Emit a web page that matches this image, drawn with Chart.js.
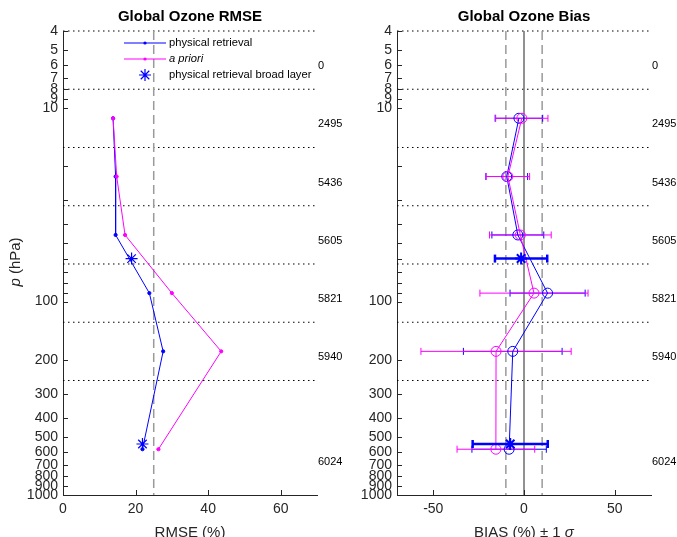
<!DOCTYPE html>
<html lang="en">
<head>
<meta charset="UTF-8">
<title>Global Ozone RMSE and Bias</title>
<script src="https://cdn.jsdelivr.net/npm/chart.js"></script>
<style>
  html, body { margin: 0; padding: 0; background: #fff; }
  .wrap { position: relative; width: 677px; height: 537px; }
  canvas { position: absolute; top: 0; }
  #rmseChart { left: 0; }
  #biasChart { left: 334px; }
</style>
</head>
<body>
<div class="wrap">
  <canvas id="rmseChart" width="346" height="537"></canvas>
  <canvas id="biasChart" width="343" height="537"></canvas>
</div>

<script>
  // pressure levels (hPa) of the profile points
  const pressure = [11.3, 22.6, 45.3, 90.5, 181, 580];
  // RMSE (%)
  const rmseRetrieval = [13.8, 14.5, 14.5, 23.8, 27.6, 21.9];
  const rmseApriori = [13.8, 14.8, 17.1, 30.0, 43.6, 26.3];
  // broad layer
  const broadPressure = [60, 545];
  const rmseBroad = [18.9, 21.9];
  // bias (%) and 1 sigma
  const biasRetrieval = [-2.8, -9.5, -3.4, 13.0, -6.2, -8.2];
  const sdRetrieval = [13.1, 11.5, 14.3, 20.7, 27.2, 20.5];
  const biasApriori = [-1.2, -8.9, -2.0, 5.5, -15.4, -15.5];
  const sdApriori = [14.4, 12.0, 17.0, 29.8, 41.4, 21.4];
  const biasBroad = [-1.6, -7.6];
  const sdBroad = [14.4, 20.7];
  // layer boundaries and sample counts
  const layerEdges = [4, 8, 16, 32, 64, 128, 256];
  const countPressure = [5.66, 11.3, 22.6, 45.3, 90.5, 181, 632];
  const counts = ['0', '2495', '5436', '5605', '5821', '5940', '6024'];
  // axis ticks
  const pTicks = [4, 5, 6, 7, 8, 9, 10, 20, 30, 40, 50, 60, 70, 80, 90, 100, 200, 300, 400, 500, 600, 700, 800, 900, 1000];
  const pLabelled = [4, 5, 6, 7, 8, 9, 10, 100, 200, 300, 400, 500, 600, 700, 800, 900, 1000];
  const rmseTicks = [0, 20, 40, 60];
  const biasTicks = [-50, 0, 50];

  const BLUE = '#0000ff';
  const MAGENTA = '#ff00ff';
  const AXIS = '#262626';
  const FONT = '"Liberation Sans", Arial, sans-serif';

  const pts = (xs, ps) => xs.map((v, i) => ({ x: v, y: ps[i] }));

  function layerLines(xmin, xmax) {
    return layerEdges.map(p => ({
      data: [{ x: xmin, y: p }, { x: xmax, y: p }],
      showLine: true, borderColor: '#000', borderWidth: 1, borderDash: [1.5, 3.5],
      pointRadius: 0, clip: false, order: 20
    }));
  }

  function vLine(x, color, dash, width) {
    return {
      data: [{ x: x, y: 4 }, { x: x, y: 1000 }],
      showLine: true, borderColor: color, borderWidth: width, borderDash: dash,
      pointRadius: 0, order: 19
    };
  }

  function errorBars(bias, sd, ps, color, width, cap, order) {
    return ps.map((p, i) => ({
      data: [{ x: bias[i] - sd[i], y: p }, { x: bias[i] + sd[i], y: p }],
      showLine: true, borderColor: color, borderWidth: width,
      pointStyle: 'line', pointRotation: 90, pointRadius: cap,
      pointBorderColor: color, pointBorderWidth: width, order: order
    }));
  }

  function yScale() {
    return {
      type: 'logarithmic', reverse: true, min: 4, max: 1000,
      afterBuildTicks: s => { s.ticks = pTicks.map(v => ({ value: v })); },
      afterFit: s => { s.width = 63; },
      grid: { drawOnChartArea: false, drawTicks: false },
      border: { color: AXIS, width: 1 },
      ticks: {
        autoSkip: false, padding: 5, color: AXIS,
        font: { family: FONT, size: 14 },
        callback: v => pLabelled.includes(v) ? String(v) : ''
      }
    };
  }

  function xScale(min, max, ticks) {
    return {
      type: 'linear', min: min, max: max,
      afterBuildTicks: s => { s.ticks = ticks.map(v => ({ value: v })); },
      afterFit: s => { s.height = 42; },
      grid: { drawOnChartArea: false, drawTicks: false },
      border: { color: AXIS, width: 1 },
      ticks: { autoSkip: false, padding: 6, color: AXIS, maxRotation: 0, font: { family: FONT, size: 14 } }
    };
  }

  // titles, axis labels, inward ticks, sample counts
  function decor(title, drawXLabel, withYLabel, drawLegend) {
    return {
      id: 'decor',
      afterDraw(chart) {
        const { ctx, chartArea: a, scales: { x, y } } = chart;
        const cx = (a.left + a.right) / 2;
        ctx.save();
        ctx.strokeStyle = AXIS;
        ctx.lineWidth = 1;
        ctx.beginPath();
        y.ticks.forEach(t => {
          const py = Math.round(y.getPixelForValue(t.value)) + 0.5;
          ctx.moveTo(a.left, py); ctx.lineTo(a.left + 5, py);
        });
        x.ticks.forEach(t => {
          const px = Math.round(x.getPixelForValue(t.value)) + 0.5;
          ctx.moveTo(px, a.bottom); ctx.lineTo(px, a.bottom - 5);
        });
        ctx.stroke();

        ctx.fillStyle = '#000';
        ctx.textAlign = 'center';
        ctx.textBaseline = 'alphabetic';
        ctx.font = 'bold 15px ' + FONT;
        ctx.fillText(title, cx, 21);

        ctx.fillStyle = AXIS;
        drawXLabel(ctx, cx, 537);

        if (withYLabel) {
          ctx.save();
          ctx.translate(20, 262);
          ctx.rotate(-Math.PI / 2);
          ctx.font = 'italic 15px ' + FONT;
          const w1 = ctx.measureText('p').width;
          ctx.font = '15px ' + FONT;
          const w2 = ctx.measureText(' (hPa)').width;
          ctx.textAlign = 'left';
          ctx.font = 'italic 15px ' + FONT;
          ctx.fillText('p', -(w1 + w2) / 2, 0);
          ctx.font = '15px ' + FONT;
          ctx.fillText(' (hPa)', -(w1 + w2) / 2 + w1, 0);
          ctx.restore();
        }

        ctx.fillStyle = '#000';
        ctx.font = '11px ' + FONT;
        ctx.textAlign = 'left';
        ctx.textBaseline = 'middle';
        counts.forEach((c, i) => {
          ctx.fillText(c, a.right + 1, y.getPixelForValue(countPressure[i]) + 6);
        });

        if (drawLegend) drawLegend(ctx);
        ctx.restore();
      }
    };
  }

  function rmseLegend(ctx) {
    const items = [
      { label: 'physical retrieval', color: BLUE, y: 43, italic: false, star: false },
      { label: 'a priori', color: MAGENTA, y: 59, italic: true, star: false },
      { label: 'physical retrieval broad layer', color: BLUE, y: 75, italic: false, star: true }
    ];
    items.forEach(it => {
      ctx.strokeStyle = it.color;
      ctx.fillStyle = it.color;
      if (it.star) {
        ctx.lineWidth = 1.2;
        ctx.beginPath();
        for (let k = 0; k < 4; k++) {
          const ang = k * Math.PI / 4;
          ctx.moveTo(145 - 6 * Math.cos(ang), it.y - 6 * Math.sin(ang));
          ctx.lineTo(145 + 6 * Math.cos(ang), it.y + 6 * Math.sin(ang));
        }
        ctx.stroke();
      } else {
        ctx.lineWidth = 1.2;
        ctx.beginPath();
        ctx.moveTo(124, it.y); ctx.lineTo(166, it.y);
        ctx.stroke();
        ctx.beginPath();
        ctx.arc(145, it.y, 1.6, 0, Math.PI * 2);
        ctx.fill();
      }
      ctx.fillStyle = '#000';
      ctx.font = (it.italic ? 'italic ' : '') + '11.2px ' + FONT;
      ctx.textAlign = 'left';
      ctx.textBaseline = 'middle';
      ctx.fillText(it.label, 169, it.y);
    });
  }

  new Chart(document.getElementById('rmseChart'), {
    type: 'scatter',
    data: {
      datasets: [
        ...layerLines(0, 70),
        vLine(25, '#9a9a9a', [9, 5], 1.5),
        {
          data: pts(rmseApriori, pressure), showLine: true,
          borderColor: MAGENTA, borderWidth: 1, pointRadius: 1.6,
          pointBackgroundColor: MAGENTA, pointBorderColor: MAGENTA, order: 2
        },
        {
          data: pts(rmseRetrieval, pressure), showLine: true,
          borderColor: BLUE, borderWidth: 1, pointRadius: 1.6,
          pointBackgroundColor: BLUE, pointBorderColor: BLUE, order: 3
        },
        {
          data: pts(rmseBroad, broadPressure), showLine: false,
          pointStyle: 'star', pointRadius: 6, pointBorderColor: BLUE,
          pointBorderWidth: 1.2, order: 1
        }
      ]
    },
    options: {
      responsive: false, animation: false, devicePixelRatio: 1,
      layout: { padding: { top: 31, right: 29, left: 0, bottom: 0 } },
      plugins: { legend: { display: false }, tooltip: { enabled: false } },
      scales: { x: xScale(0, 70, rmseTicks), y: yScale() }
    },
    plugins: [decor('Global Ozone RMSE', (ctx, cx, by) => {
      ctx.font = '15px ' + FONT;
      ctx.textAlign = 'center';
      ctx.fillText('RMSE (%)', cx, by);
    }, true, rmseLegend)]
  });

  new Chart(document.getElementById('biasChart'), {
    type: 'scatter',
    data: {
      datasets: [
        ...layerLines(-70, 70),
        vLine(-10, '#9a9a9a', [9, 5], 1.5),
        vLine(10, '#9a9a9a', [9, 5], 1.5),
        vLine(0, '#6e6e6e', [], 1.5),
        ...errorBars(biasRetrieval, sdRetrieval, pressure, BLUE, 1, 3.5, 8),
        ...errorBars(biasApriori, sdApriori, pressure, MAGENTA, 1, 3.5, 7),
        {
          data: pts(biasRetrieval, pressure), showLine: true,
          borderColor: BLUE, borderWidth: 1, pointRadius: 5,
          pointBackgroundColor: 'transparent', pointBorderColor: BLUE,
          pointBorderWidth: 1, order: 4
        },
        {
          data: pts(biasApriori, pressure), showLine: true,
          borderColor: MAGENTA, borderWidth: 1, pointRadius: 5,
          pointBackgroundColor: 'transparent', pointBorderColor: MAGENTA,
          pointBorderWidth: 1, order: 3
        },
        ...errorBars(biasBroad, sdBroad, broadPressure, BLUE, 2.5, 4, 2),
        {
          data: pts(biasBroad, broadPressure), showLine: false,
          pointStyle: 'star', pointRadius: 6, pointBorderColor: BLUE,
          pointBorderWidth: 2, order: 1
        }
      ]
    },
    options: {
      responsive: false, animation: false, devicePixelRatio: 1,
      layout: { padding: { top: 31, right: 26, left: 0, bottom: 0 } },
      plugins: { legend: { display: false }, tooltip: { enabled: false } },
      scales: { x: xScale(-70, 70, biasTicks), y: yScale() }
    },
    plugins: [decor('Global Ozone Bias', (ctx, cx, by) => {
      const parts = [['BIAS (%) \u00b1 1 ', '15px '], ['\u03c3', 'italic 15px ']];
      let total = 0;
      parts.forEach(([t, f]) => { ctx.font = f + FONT; total += ctx.measureText(t).width; });
      let px = cx - total / 2;
      ctx.textAlign = 'left';
      parts.forEach(([t, f]) => {
        ctx.font = f + FONT;
        ctx.fillText(t, px, by);
        px += ctx.measureText(t).width;
      });
    }, false, null)]
  });
</script>
</body>
</html>
